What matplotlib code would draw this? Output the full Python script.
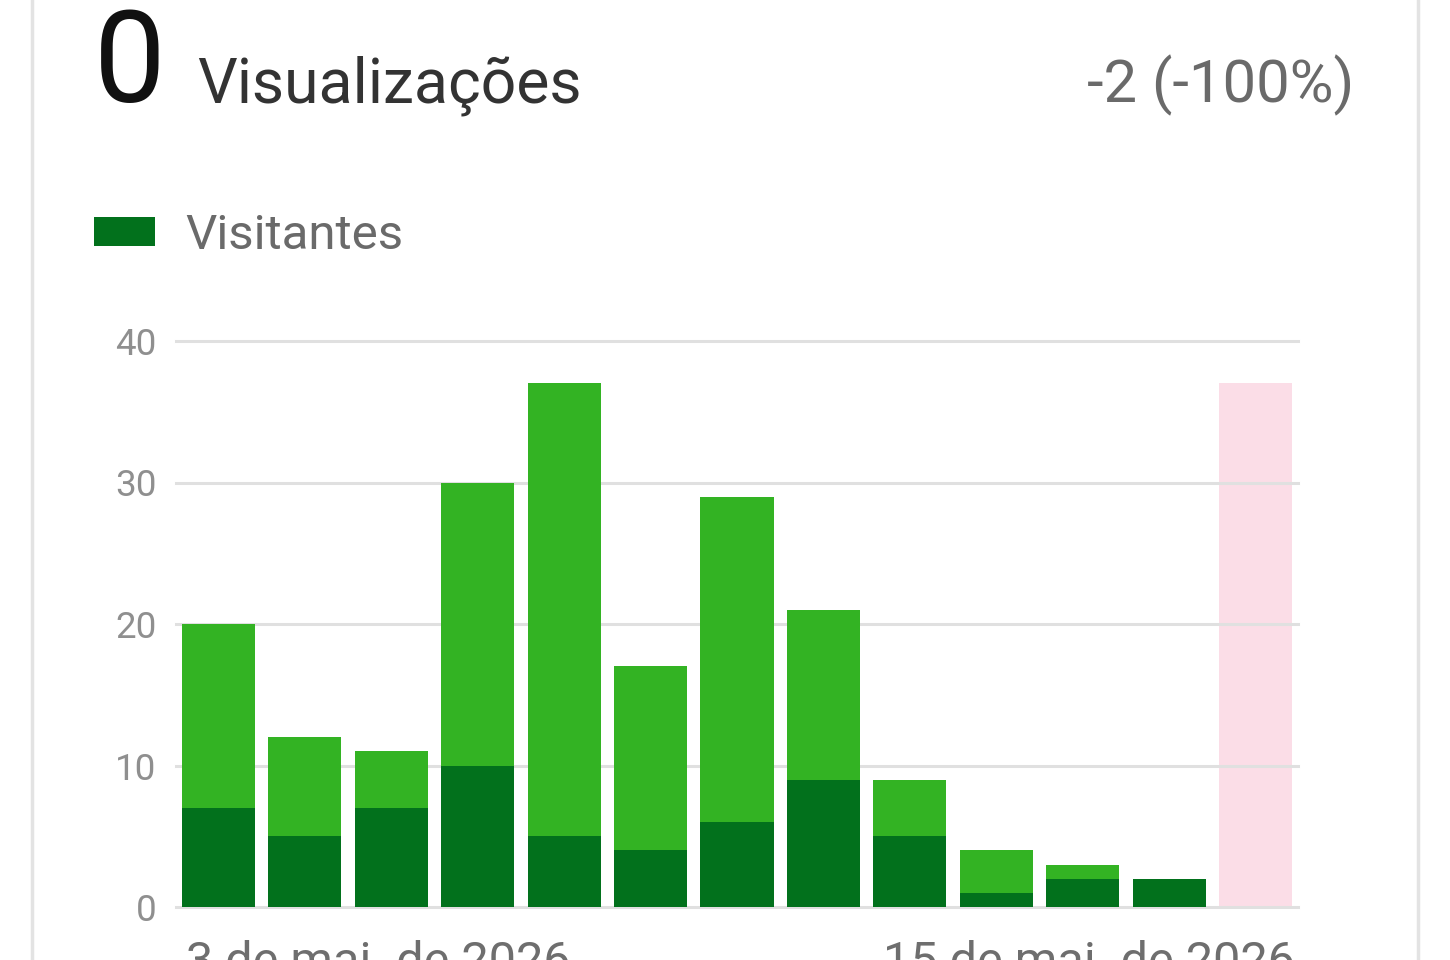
import matplotlib
matplotlib.use("Agg")
import matplotlib.pyplot as plt
from matplotlib.patches import Rectangle
from matplotlib.lines import Line2D

plt.rcParams['font.family'] = ['Roboto', 'DejaVu Sans']

# ---- data ----
days = list(range(13))
views = [20, 12, 11, 30, 37, 17, 29, 21, 9, 4, 3, 2, 0]
visitors = [7, 5, 7, 10, 5, 4, 6, 9, 5, 1, 2, 2, 0]
highlight_index = 12
yticks = [0, 10, 20, 30, 40]
date_labels = ["3 de mai. de 2026", "15 de mai. de 2026"]
total_views = "0"
title_label = "Visualizações"
change_label = "-2 (-100%)"
legend_label = "Visitantes"

W, H = 1450, 960
fig = plt.figure(figsize=(W / 100, H / 100), dpi=100)
fig.patch.set_facecolor("white")

def fx(px):
    return px / W

def fy(py):
    return 1 - py / H

# card borders
fig.add_artist(Line2D([fx(32), fx(32)], [0, 1], color="#e3e3e3", lw=2.5, transform=fig.transFigure))
fig.add_artist(Line2D([fx(1418), fx(1418)], [0, 1], color="#e3e3e3", lw=2.5, transform=fig.transFigure))

ax = fig.add_axes([fx(176), fy(907), fx(1298) - fx(176), fy(341) - fy(907)])
ax.set_xlim(-0.49, 12.49)
ax.set_ylim(0, 40)
for s in ax.spines.values():
    s.set_visible(False)
ax.set_xticks([])
ax.set_yticks(yticks)
ax.tick_params(axis='y', length=0, pad=14, labelsize=26.5, labelcolor="#8f8f8f")
for t in yticks:
    ax.axhline(t, color="#e0e0e0", lw=2.2, zorder=2, clip_on=False)

bw = 0.845
# highlight
ax.bar([days[highlight_index]], [max(views)], width=bw, color="#fbdde7", zorder=1)
ax.bar(days[:highlight_index], views[:highlight_index], width=bw, color="#33b323", zorder=3)
ax.bar(days[:highlight_index], visitors[:highlight_index], width=bw, color="#02711c", zorder=4)

# date labels
ax.text(days[0] - bw / 2 + 0.05, -2.3, date_labels[0], ha="left", va="top",
        fontsize=35, color="#6e6e6e", clip_on=False)
ax.text(days[-1] + bw / 2 + 0.03, -2.3, date_labels[1], ha="right", va="top",
        fontsize=35, color="#6e6e6e", clip_on=False)

# header
fig.text(fx(94), fy(102), total_views, fontsize=92, color="#111111",
         ha="left", va="baseline")
fig.text(fx(197), fy(102), title_label, fontsize=45, color="#333333",
         ha="left", va="baseline")
fig.text(fx(1354), fy(102), change_label, fontsize=43, color="#6a6a6a",
         ha="right", va="baseline")

# legend
fig.add_artist(Rectangle((fx(94), fy(246)), fx(155) - fx(94), fy(217) - fy(246),
                         facecolor="#02711c", edgecolor="none", transform=fig.transFigure))
fig.text(fx(185), fy(249), legend_label, fontsize=35.5, color="#6a6a6a",
         ha="left", va="baseline")

fig.savefig("out.png", dpi=100, facecolor="white")
